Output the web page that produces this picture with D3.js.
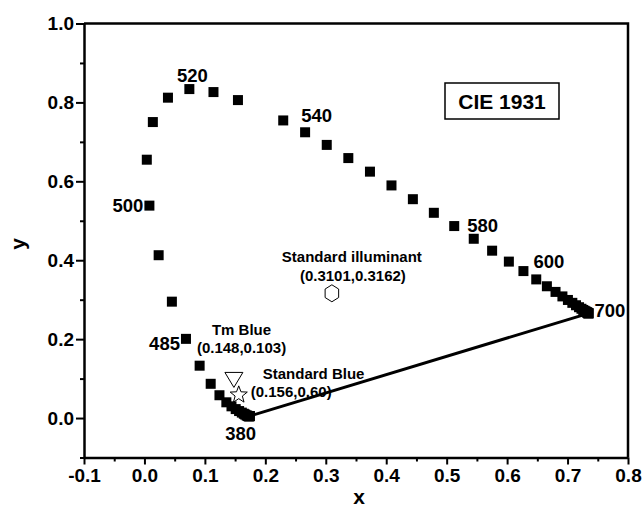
<!DOCTYPE html>
<html>
<head>
<meta charset="utf-8">
<script src="https://cdn.jsdelivr.net/npm/d3@7"></script>
<style>
body { margin: 0; background: #fff; }
text { font-family: "Liberation Sans", Arial, sans-serif; font-weight: bold; fill: #000; }
</style>
</head>
<body>
<svg id="chart" width="644" height="509"></svg>
<script>
// spectral locus, 5 nm steps (535 nm is not plotted in the original)
var wavelengths = [380,385,390,395,400,405,410,415,420,425,430,435,440,445,450,455,460,465,470,475,
	480,485,490,495,500,505,510,515,520,525,530,540,545,550,555,560,565,570,575,580,
	585,590,595,600,605,610,615,620,625,630,635,640,645,650,655,660,665,670,675,680,685,690,695,700];
var locusX = [0.1741,0.1740,0.1738,0.1736,0.1733,0.1730,0.1726,0.1721,0.1714,0.1703,0.1689,0.1666,0.1644,0.1611,0.1566,0.1510,0.1440,0.1355,0.1241,0.1096,
	0.0913,0.0687,0.0454,0.0235,0.0082,0.0039,0.0139,0.0389,0.0743,0.1142,0.1547,0.2296,0.2658,0.3016,0.3373,0.3731,0.4087,0.4441,0.4788,0.5125,
	0.5448,0.5752,0.6029,0.6270,0.6482,0.6658,0.6801,0.6915,0.7006,0.7079,0.7140,0.7190,0.7230,0.7260,0.7283,0.7300,0.7311,0.7320,0.7327,0.7334,0.7340,0.7344,0.7346,0.7347];
var locusY = [0.0050,0.0050,0.0049,0.0049,0.0048,0.0048,0.0048,0.0048,0.0051,0.0058,0.0069,0.0089,0.0109,0.0138,0.0177,0.0227,0.0297,0.0399,0.0578,0.0868,
	0.1327,0.2007,0.2950,0.4127,0.5384,0.6548,0.7502,0.8120,0.8338,0.8262,0.8059,0.7543,0.7243,0.6923,0.6589,0.6245,0.5896,0.5547,0.5202,0.4866,
	0.4544,0.4242,0.3965,0.3725,0.3514,0.3340,0.3197,0.3083,0.2993,0.2920,0.2859,0.2809,0.2770,0.2740,0.2717,0.2700,0.2689,0.2680,0.2673,0.2666,0.2660,0.2656,0.2654,0.2653];
var labelledWavelengths = [380, 485, 500, 520, 540, 580, 600, 700];

var xTicks = [-0.1, 0.0, 0.1, 0.2, 0.3, 0.4, 0.5, 0.6, 0.7, 0.8];
var yTicks = [0.0, 0.2, 0.4, 0.6, 0.8, 1.0];

var illuminant = {name: "Standard illuminant", label: "(0.3101,0.3162)", x: 0.3101, y: 0.3162};
var tmBlue = {name: "Tm Blue", label: "(0.148,0.103)", x: 0.148, y: 0.103};
var stdBlue = {name: "Standard Blue", label: "(0.156,0.60)", x: 0.156, y: 0.060};

var svg = d3.select("#chart");

var xScale = d3.scaleLinear().domain([-0.1, 0.8]).range([84, 628]);
var yScale = d3.scaleLinear().domain([-0.1, 1.0]).range([457.5, 23.5]);

function minorTicks(arr, step) {
	var out = [];
	for (var i = 0; i < arr.length - 1; i++) out.push(+(arr[i] + step).toFixed(3));
	return out;
}
function fmt(d) { return d.toFixed(1); } // plain hyphen for -0.1

// axes: major + minor ticks, outward
var xAxisG = svg.append("g").attr("transform", "translate(0," + yScale(-0.1) + ")");
xAxisG.call(d3.axisBottom(xScale).tickValues(xTicks).tickSize(7).tickSizeOuter(0).tickPadding(4).tickFormat(fmt));
xAxisG.append("g").call(d3.axisBottom(xScale).tickValues(minorTicks(xTicks, 0.05)).tickSize(4).tickFormat(""))
	.select(".domain").remove();

var yAxisG = svg.append("g").attr("transform", "translate(" + xScale(-0.1) + ",0)");
yAxisG.call(d3.axisLeft(yScale).tickValues(yTicks).tickSize(8).tickSizeOuter(0).tickPadding(2).tickFormat(fmt));
yAxisG.append("g").call(d3.axisLeft(yScale).tickValues([-0.1, 0.1, 0.3, 0.5, 0.7, 0.9]).tickSize(4).tickFormat(""))
	.select(".domain").remove();

svg.selectAll(".domain").attr("stroke-width", 2.5).attr("stroke", "#000");
svg.selectAll(".tick line").attr("stroke-width", 2).attr("stroke", "#000");
svg.selectAll(".tick text").attr("font-size", 19).attr("font-family", null).attr("fill", "#000");

// top and right frame
svg.append("path")
	.attr("d", "M" + xScale(-0.1) + "," + yScale(1.0) + "H" + xScale(0.8) + "V" + yScale(-0.1))
	.attr("fill", "none").attr("stroke", "#000").attr("stroke-width", 2.5);

// axis titles
svg.append("text").attr("x", 359).attr("y", 504).attr("text-anchor", "middle")
	.attr("font-size", 21).text("x");
svg.append("text").attr("transform", "translate(25,244) rotate(-90)").attr("text-anchor", "middle")
	.attr("font-size", 21).text("y");

// purple line 380 -> 700
var first = 0, last = wavelengths.length - 1;
svg.append("line")
	.attr("x1", xScale(locusX[first])).attr("y1", yScale(locusY[first]))
	.attr("x2", xScale(locusX[last])).attr("y2", yScale(locusY[last]))
	.attr("stroke", "#000").attr("stroke-width", 3);

// locus squares
var sq = 10;
svg.append("g").selectAll("rect")
	.data(wavelengths)
	.enter()
	.append("rect")
	.attr("x", function(d, i) { return xScale(locusX[i]) - sq / 2; })
	.attr("y", function(d, i) { return yScale(locusY[i]) - sq / 2; })
	.attr("width", sq).attr("height", sq)
	.attr("fill", "#000");

// wavelength labels, offsets from their point
var labelPos = {
	380: {dx: -9, dy: 24, anchor: "middle"},
	485: {dx: -6, dy: 11, anchor: "end"},
	500: {dx: -6, dy: 6, anchor: "end"},
	520: {dx: 3, dy: -7, anchor: "middle"},
	540: {dx: 18, dy: 2, anchor: "start"},
	580: {dx: 13, dy: 6, anchor: "start"},
	600: {dx: 10, dy: -3, anchor: "start"},
	700: {dx: 6, dy: 4, anchor: "start"}
};
svg.append("g").selectAll("text")
	.data(labelledWavelengths)
	.enter()
	.append("text")
	.attr("x", function(w) { return xScale(locusX[wavelengths.indexOf(w)]) + labelPos[w].dx; })
	.attr("y", function(w) { return yScale(locusY[wavelengths.indexOf(w)]) + labelPos[w].dy; })
	.attr("text-anchor", function(w) { return labelPos[w].anchor; })
	.attr("font-size", 18.5)
	.text(function(w) { return w; });

// standard illuminant hexagon
var hx = xScale(illuminant.x), hy = yScale(illuminant.y), hr = 8.5;
var hex = d3.range(6).map(function(k) {
	var a = Math.PI / 3 * k - Math.PI / 2;
	return [hx + hr * Math.cos(a) * 0.92, hy + hr * Math.sin(a)];
});
svg.append("path").attr("d", "M" + hex.join("L") + "Z")
	.attr("fill", "#fff").attr("stroke", "#000").attr("stroke-width", 1);

// Tm Blue down triangle
var tx = xScale(tmBlue.x), ty = yScale(tmBlue.y);
svg.append("path")
	.attr("d", "M" + (tx - 9) + "," + (ty - 5) + "L" + (tx + 9) + "," + (ty - 5) + "L" + tx + "," + (ty + 10) + "Z")
	.attr("fill", "#fff").attr("stroke", "#000").attr("stroke-width", 1);

// Standard Blue star
var stx = xScale(stdBlue.x), sty = yScale(stdBlue.y);
var star = d3.range(10).map(function(k) {
	var r = k % 2 == 0 ? 9 : 3.8;
	var a = Math.PI / 5 * k - Math.PI / 2;
	return [stx + r * Math.cos(a), sty + 0.5 + r * Math.sin(a)];
});
svg.append("path").attr("d", "M" + star.join("L") + "Z")
	.attr("fill", "#fff").attr("stroke", "#000").attr("stroke-width", 1);

// annotations
function note(txt, x, y, anchor) {
	svg.append("text").attr("x", x).attr("y", y).attr("text-anchor", anchor || "start")
		.attr("font-size", 15).text(txt);
}
note(illuminant.name, hx + 20, hy - 31, "middle");
note(illuminant.label, hx + 21, hy - 12, "middle");
note(tmBlue.name, tx - 22, ty - 42);
note(tmBlue.label, tx - 37, ty - 24);
note(stdBlue.name, stx + 24, sty - 15);
note(stdBlue.label, stx + 12, sty + 3);

// CIE 1931 box
svg.append("rect").attr("x", 445).attr("y", 83).attr("width", 114).attr("height", 36)
	.attr("fill", "#fff").attr("stroke", "#000").attr("stroke-width", 1.5);
svg.append("text").attr("x", 502).attr("y", 109).attr("text-anchor", "middle")
	.attr("font-size", 21).text("CIE 1931");
</script>
</body>
</html>
